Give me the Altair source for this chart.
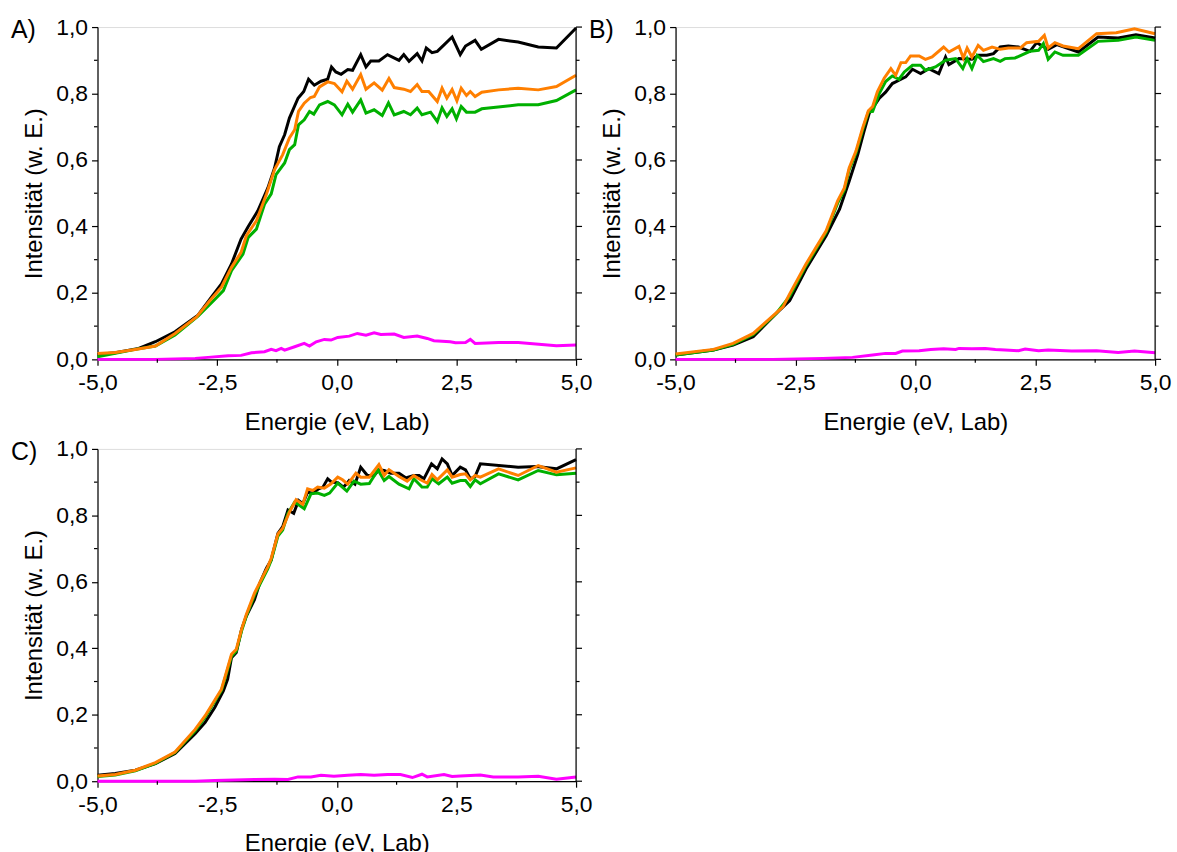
import altair as alt
import pandas as pd

# ---------------- data ----------------
A_black_E = [-5.0, -4.63, -4.14, -3.79, -3.38, -2.9, -2.62, -2.41, -2.2, -2.0, -1.85, -1.65, -1.44, -1.3, -1.2, -1.09, -0.99, -0.81, -0.69, -0.59, -0.47, -0.33, -0.19, -0.11, -0.02, 0.09, 0.23, 0.33, 0.5, 0.61, 0.71, 0.88, 1.06, 1.3, 1.4, 1.51, 1.68, 1.78, 1.87, 1.99, 2.1, 2.23, 2.41, 2.58, 2.69, 2.89, 3.02, 3.38, 3.79, 4.21, 4.59, 5.0]
A_black_I = [0.015, 0.02, 0.033, 0.053, 0.083, 0.133, 0.187, 0.227, 0.287, 0.362, 0.40, 0.447, 0.516, 0.576, 0.64, 0.676, 0.726, 0.786, 0.806, 0.843, 0.825, 0.837, 0.843, 0.88, 0.865, 0.858, 0.872, 0.87, 0.917, 0.88, 0.898, 0.898, 0.917, 0.9, 0.917, 0.897, 0.92, 0.898, 0.937, 0.923, 0.927, 0.945, 0.97, 0.917, 0.943, 0.96, 0.933, 0.963, 0.955, 0.94, 0.937, 0.997]

A_orange_E = [-5.0, -4.63, -4.21, -3.79, -3.38, -2.93, -2.65, -2.41, -2.2, -2.0, -1.89, -1.68, -1.47, -1.3, -1.13, -0.99, -0.88, -0.8, -0.68, -0.55, -0.47, -0.36, -0.19, -0.05, 0.11, 0.21, 0.33, 0.5, 0.61, 0.78, 0.95, 1.09, 1.2, 1.4, 1.54, 1.68, 1.78, 1.92, 2.1, 2.2, 2.3, 2.41, 2.51, 2.6, 2.71, 2.79, 2.89, 3.03, 3.38, 3.79, 4.21, 4.59, 5.0]
A_orange_I = [0.018, 0.021, 0.03, 0.04, 0.078, 0.128, 0.177, 0.217, 0.277, 0.322, 0.372, 0.417, 0.497, 0.571, 0.616, 0.666, 0.691, 0.746, 0.771, 0.788, 0.791, 0.82, 0.835, 0.83, 0.805, 0.837, 0.813, 0.857, 0.813, 0.832, 0.81, 0.845, 0.818, 0.813, 0.806, 0.827, 0.806, 0.806, 0.776, 0.816, 0.786, 0.812, 0.778, 0.816, 0.794, 0.806, 0.791, 0.804, 0.811, 0.816, 0.811, 0.821, 0.855]

A_green_E = [-5.0, -4.63, -4.21, -3.79, -3.38, -2.9, -2.55, -2.37, -2.2, -1.96, -1.85, -1.68, -1.51, -1.37, -1.27, -1.09, -0.99, -0.88, -0.8, -0.68, -0.57, -0.48, -0.36, -0.19, -0.05, 0.11, 0.23, 0.33, 0.5, 0.61, 0.78, 0.95, 1.08, 1.2, 1.4, 1.54, 1.68, 1.78, 1.96, 2.1, 2.2, 2.3, 2.41, 2.5, 2.6, 2.71, 2.89, 3.03, 3.79, 4.21, 4.59, 5.0]
A_green_I = [0.008, 0.018, 0.03, 0.04, 0.073, 0.13, 0.18, 0.207, 0.267, 0.317, 0.367, 0.392, 0.467, 0.498, 0.556, 0.591, 0.631, 0.646, 0.706, 0.721, 0.746, 0.738, 0.766, 0.776, 0.766, 0.736, 0.768, 0.744, 0.781, 0.741, 0.751, 0.734, 0.772, 0.736, 0.746, 0.736, 0.756, 0.736, 0.744, 0.716, 0.757, 0.731, 0.754, 0.724, 0.761, 0.744, 0.744, 0.754, 0.766, 0.766, 0.779, 0.811]

A_magenta_E = [-5.0, -3.79, -2.96, -2.69, -2.27, -2.0, -1.78, -1.51, -1.37, -1.27, -1.16, -1.09, -0.88, -0.68, -0.57, -0.43, -0.26, -0.12, 0.02, 0.26, 0.43, 0.61, 0.78, 0.92, 1.2, 1.4, 1.68, 1.89, 2.03, 2.37, 2.48, 2.69, 2.79, 2.89, 3.38, 3.79, 4.59, 5.0]
A_magenta_I = [0.0, 0.0, 0.003, 0.006, 0.011, 0.012, 0.02, 0.023, 0.03, 0.026, 0.033, 0.028, 0.038, 0.048, 0.04, 0.053, 0.06, 0.058, 0.066, 0.07, 0.078, 0.073, 0.08, 0.075, 0.076, 0.066, 0.07, 0.063, 0.056, 0.053, 0.05, 0.051, 0.06, 0.048, 0.051, 0.051, 0.041, 0.043]

B_black_E = [-5.0, -4.21, -3.8, -3.38, -2.9, -2.62, -2.28, -1.86, -1.58, -1.38, -1.2, -1.07, -0.96, -0.75, -0.62, -0.48, -0.34, -0.2, -0.06, 0.11, 0.28, 0.49, 0.63, 0.7, 0.91, 1.18, 1.32, 1.49, 1.63, 1.77, 1.94, 2.15, 2.39, 2.53, 2.77, 2.95, 3.4, 3.81, 4.23, 4.6, 5.0]
B_black_I = [0.013, 0.028, 0.043, 0.068, 0.138, 0.177, 0.272, 0.372, 0.452, 0.536, 0.616, 0.686, 0.741, 0.786, 0.804, 0.83, 0.84, 0.85, 0.873, 0.86, 0.875, 0.86, 0.91, 0.887, 0.905, 0.903, 0.915, 0.915, 0.92, 0.94, 0.943, 0.94, 0.927, 0.953, 0.933, 0.947, 0.925, 0.97, 0.967, 0.977, 0.967]

B_orange_E = [-5.0, -4.21, -3.8, -3.38, -2.9, -2.76, -2.62, -2.28, -2.07, -1.86, -1.62, -1.48, -1.38, -1.24, -1.1, -0.98, -0.89, -0.79, -0.65, -0.51, -0.41, -0.3, -0.2, -0.1, 0.08, 0.21, 0.35, 0.59, 0.7, 0.91, 1.0, 1.08, 1.18, 1.31, 1.42, 1.6, 1.77, 1.94, 2.19, 2.32, 2.57, 2.69, 2.77, 2.91, 3.08, 3.4, 3.78, 4.19, 4.57, 5.0]
B_orange_I = [0.016, 0.03, 0.048, 0.078, 0.14, 0.158, 0.197, 0.287, 0.337, 0.387, 0.477, 0.516, 0.576, 0.626, 0.696, 0.748, 0.761, 0.806, 0.846, 0.875, 0.855, 0.893, 0.893, 0.913, 0.913, 0.903, 0.91, 0.94, 0.925, 0.942, 0.907, 0.937, 0.91, 0.945, 0.93, 0.94, 0.933, 0.937, 0.937, 0.953, 0.957, 0.975, 0.937, 0.953, 0.943, 0.935, 0.98, 0.983, 0.995, 0.98]

B_green_E = [-5.0, -4.21, -3.8, -3.38, -2.9, -2.62, -2.28, -2.07, -1.86, -1.62, -1.48, -1.38, -1.24, -1.1, -0.98, -0.89, -0.75, -0.62, -0.48, -0.34, -0.23, -0.06, 0.11, 0.21, 0.42, 0.63, 0.84, 0.99, 1.08, 1.18, 1.29, 1.42, 1.63, 1.77, 1.87, 2.08, 2.39, 2.57, 2.67, 2.77, 2.91, 3.08, 3.4, 3.81, 4.23, 4.6, 5.0]
B_green_I = [0.013, 0.028, 0.045, 0.075, 0.138, 0.19, 0.282, 0.332, 0.382, 0.47, 0.51, 0.57, 0.62, 0.69, 0.744, 0.746, 0.801, 0.836, 0.853, 0.843, 0.865, 0.885, 0.885, 0.87, 0.88, 0.9, 0.905, 0.875, 0.905, 0.875, 0.915, 0.896, 0.905, 0.897, 0.905, 0.907, 0.927, 0.93, 0.95, 0.903, 0.925, 0.915, 0.915, 0.957, 0.96, 0.97, 0.96]

B_magenta_E = [-5.0, -2.97, -1.93, -1.31, -0.89, -0.62, -0.41, -0.27, 0.08, 0.32, 0.59, 0.84, 0.91, 1.18, 1.46, 1.67, 1.87, 2.15, 2.29, 2.57, 2.77, 3.26, 3.78, 4.23, 4.57, 5.0]
B_magenta_I = [0.0, 0.0, 0.003, 0.006, 0.013, 0.018, 0.018, 0.025, 0.026, 0.03, 0.032, 0.03, 0.033, 0.032, 0.033, 0.03, 0.028, 0.026, 0.031, 0.026, 0.028, 0.025, 0.026, 0.021, 0.025, 0.02]

C_black_E = [-5.0, -4.63, -4.21, -3.79, -3.38, -2.96, -2.75, -2.55, -2.37, -2.28, -2.2, -2.1, -1.99, -1.89, -1.72, -1.61, -1.47, -1.37, -1.23, -1.13, -1.02, -0.9, -0.8, -0.71, -0.61, -0.5, -0.38, -0.29, -0.19, -0.11, 0.02, 0.14, 0.26, 0.38, 0.5, 0.64, 0.78, 0.88, 0.99, 1.13, 1.3, 1.44, 1.61, 1.72, 1.82, 1.98, 2.1, 2.2, 2.31, 2.41, 2.58, 2.69, 2.79, 2.89, 3.0, 3.79, 4.18, 4.59, 5.0]
C_black_I = [0.018, 0.023, 0.033, 0.053, 0.083, 0.143, 0.177, 0.222, 0.272, 0.307, 0.372, 0.387, 0.457, 0.497, 0.546, 0.596, 0.641, 0.666, 0.746, 0.766, 0.816, 0.806, 0.845, 0.835, 0.87, 0.867, 0.88, 0.885, 0.91, 0.9, 0.898, 0.885, 0.905, 0.894, 0.945, 0.92, 0.92, 0.937, 0.935, 0.927, 0.927, 0.913, 0.92, 0.92, 0.91, 0.955, 0.94, 0.97, 0.955, 0.92, 0.945, 0.937, 0.91, 0.917, 0.955, 0.945, 0.947, 0.94, 0.968]

C_orange_E = [-5.0, -4.63, -4.21, -3.79, -3.38, -2.96, -2.75, -2.58, -2.41, -2.31, -2.2, -2.1, -1.99, -1.89, -1.72, -1.58, -1.44, -1.37, -1.23, -1.13, -0.99, -0.85, -0.71, -0.61, -0.5, -0.4, -0.26, -0.12, 0.02, 0.12, 0.23, 0.4, 0.5, 0.68, 0.88, 0.99, 1.09, 1.3, 1.47, 1.61, 1.75, 1.89, 1.99, 2.1, 2.31, 2.41, 2.58, 2.69, 2.79, 2.89, 3.0, 3.38, 3.79, 4.21, 4.59, 5.0]
C_orange_I = [0.016, 0.02, 0.033, 0.056, 0.088, 0.156, 0.197, 0.237, 0.277, 0.327, 0.382, 0.397, 0.457, 0.502, 0.566, 0.606, 0.646, 0.671, 0.744, 0.761, 0.81, 0.847, 0.833, 0.88, 0.875, 0.885, 0.882, 0.895, 0.915, 0.907, 0.894, 0.927, 0.915, 0.915, 0.953, 0.92, 0.937, 0.917, 0.903, 0.92, 0.907, 0.897, 0.923, 0.907, 0.937, 0.915, 0.923, 0.925, 0.907, 0.92, 0.915, 0.94, 0.92, 0.95, 0.93, 0.943]

C_green_E = [-5.0, -4.63, -4.21, -3.79, -3.38, -2.96, -2.75, -2.58, -2.41, -2.31, -2.2, -2.1, -1.99, -1.89, -1.72, -1.58, -1.44, -1.37, -1.23, -1.13, -1.02, -0.88, -0.68, -0.54, -0.4, -0.26, -0.15, 0.02, 0.21, 0.36, 0.5, 0.68, 0.86, 0.99, 1.09, 1.3, 1.51, 1.61, 1.78, 1.89, 1.99, 2.13, 2.31, 2.41, 2.58, 2.69, 2.79, 2.89, 3.0, 3.38, 3.79, 4.21, 4.59, 5.0]
C_green_I = [0.014, 0.019, 0.031, 0.054, 0.086, 0.152, 0.193, 0.233, 0.273, 0.322, 0.376, 0.392, 0.452, 0.497, 0.56, 0.6, 0.64, 0.665, 0.738, 0.756, 0.806, 0.84, 0.82, 0.865, 0.867, 0.86, 0.867, 0.897, 0.873, 0.903, 0.894, 0.896, 0.937, 0.905, 0.917, 0.894, 0.88, 0.91, 0.885, 0.885, 0.91, 0.895, 0.915, 0.897, 0.905, 0.905, 0.887, 0.907, 0.895, 0.925, 0.907, 0.935, 0.922, 0.927]

C_magenta_E = [-5.0, -2.96, -2.55, -2.13, -1.72, -1.3, -1.02, -0.81, -0.54, -0.33, -0.06, 0.23, 0.5, 0.78, 1.06, 1.33, 1.58, 1.78, 1.89, 2.24, 2.41, 2.58, 3.0, 3.27, 3.79, 4.21, 4.59, 5.0]
C_magenta_I = [0.0, 0.0, 0.002, 0.004, 0.005, 0.006, 0.005, 0.013, 0.013, 0.018, 0.015, 0.018, 0.02, 0.018, 0.02, 0.02, 0.011, 0.021, 0.013, 0.02, 0.014, 0.016, 0.019, 0.013, 0.013, 0.015, 0.006, 0.013]

panel_labels = ["A)", "B)", "C)"]
series_colors = {"black": "#000000", "green": "#00b000", "orange": "#ff7f00", "magenta": "#ff00ff"}
x_major = [-5.0, -2.5, 0.0, 2.5, 5.0]
x_minor = [-3.75, -1.25, 1.25, 3.75]
y_major = [0.0, 0.2, 0.4, 0.6, 0.8, 1.0]
y_minor = [0.1, 0.3, 0.5, 0.7, 0.9]
y_range = [0.0, 1.0]
x_title = "Energie (eV, Lab)"
y_title = "Intensität (w. E.)"

# ---------------- styling ----------------
FONT = "Liberation Sans"
LBL = "replace(replace(format(datum.value, '.1f'), '.', ','), '\u2212', '-')"
MAJ = 6
MIN = 3.5
LW = 1.2

xscale = alt.Scale(domain=[-5, 5], nice=False, zero=False)
yscale = alt.Scale(domain=[0, 1], nice=False, zero=False)

common_axis = dict(
    grid=False, domainColor="black", domainWidth=LW, tickColor="black", tickWidth=LW, tickSize=MAJ,
    labelColor="black", labelFont=FONT, labelFontSize=23, titleFont=FONT, titleFontSize=24,
    titleFontWeight="normal", titleColor="black", labelOverlap=False, labelFlush=False,
)

x_axis = alt.Axis(values=x_major, labelExpr=LBL, title=x_title, labelPadding=6, titlePadding=16, **common_axis)
y_axis = alt.Axis(values=y_major, labelExpr=LBL, title=y_title, labelPadding=4, titlePadding=9, **common_axis)


def make_df(E, I):
    assert len(E) == len(I)
    return pd.DataFrame({"E": E, "I": I})


def panel(label, series, w, h):
    layers = []
    for name, (E, I) in series:
        layers.append(
            alt.Chart(make_df(E, I)).mark_line(strokeWidth=3, color=series_colors[name]).encode(
                x=alt.X("E:Q", scale=xscale, axis=x_axis),
                y=alt.Y("I:Q", scale=yscale, axis=y_axis),
            )
        )
    tick = dict(color="black", strokeWidth=LW)
    ymin = pd.DataFrame({"v": y_minor})
    ymaj = pd.DataFrame({"v": y_major})
    xmin = pd.DataFrame({"v": x_minor})
    yfield = alt.Y("v:Q", scale=yscale, axis=y_axis)
    # minor ticks on left, right; right major ticks; bottom minor ticks
    layers.append(alt.Chart(ymin).mark_rule(**tick).encode(y=yfield, x=alt.value(0), x2=alt.value(-MIN)))
    layers.append(alt.Chart(ymin).mark_rule(**tick).encode(y=yfield, x=alt.value(w), x2=alt.value(w + MIN)))
    layers.append(alt.Chart(ymaj).mark_rule(**tick).encode(y=yfield, x=alt.value(w), x2=alt.value(w + MAJ)))
    layers.append(alt.Chart(xmin).mark_rule(**tick).encode(
        x=alt.X("v:Q", scale=xscale, axis=x_axis), y=alt.value(h), y2=alt.value(h + MIN)))
    # right-hand frame line spanning the y range
    layers.append(alt.Chart(pd.DataFrame({"a": [y_range[0]], "b": [y_range[1]]})).mark_rule(**tick).encode(
        y=alt.Y("a:Q", scale=yscale, axis=y_axis), y2="b:Q", x=alt.value(w)))
    layers.append(alt.Chart(pd.DataFrame({"t": [label]})).mark_text(
        align="left", baseline="middle", font=FONT, fontSize=25, color="black"
    ).encode(x=alt.value(-87), y=alt.value(3), text="t:N"))
    return alt.layer(*layers).properties(width=w, height=h)


pA = panel(panel_labels[0], [("black", (A_black_E, A_black_I)), ("green", (A_green_E, A_green_I)),
                             ("orange", (A_orange_E, A_orange_I)), ("magenta", (A_magenta_E, A_magenta_I))], 481, 334)
pB = panel(panel_labels[1], [("black", (B_black_E, B_black_I)), ("green", (B_green_E, B_green_I)),
                             ("orange", (B_orange_E, B_orange_I)), ("magenta", (B_magenta_E, B_magenta_I))], 482, 334)
pC = panel(panel_labels[2], [("black", (C_black_E, C_black_I)), ("green", (C_green_E, C_green_I)),
                             ("orange", (C_orange_E, C_orange_I)), ("magenta", (C_magenta_E, C_magenta_I))], 481, 334)

chart = alt.concat(pA, pB, pC, columns=2, spacing={"row": 90, "column": 100}, bounds="flush").properties(
    padding={"left": 10, "top": 13, "right": 5, "bottom": 5}
).configure_view(stroke=None).configure(background="white")

chart.save("out.html", embed_options={"renderer": "svg", "actions": False})
